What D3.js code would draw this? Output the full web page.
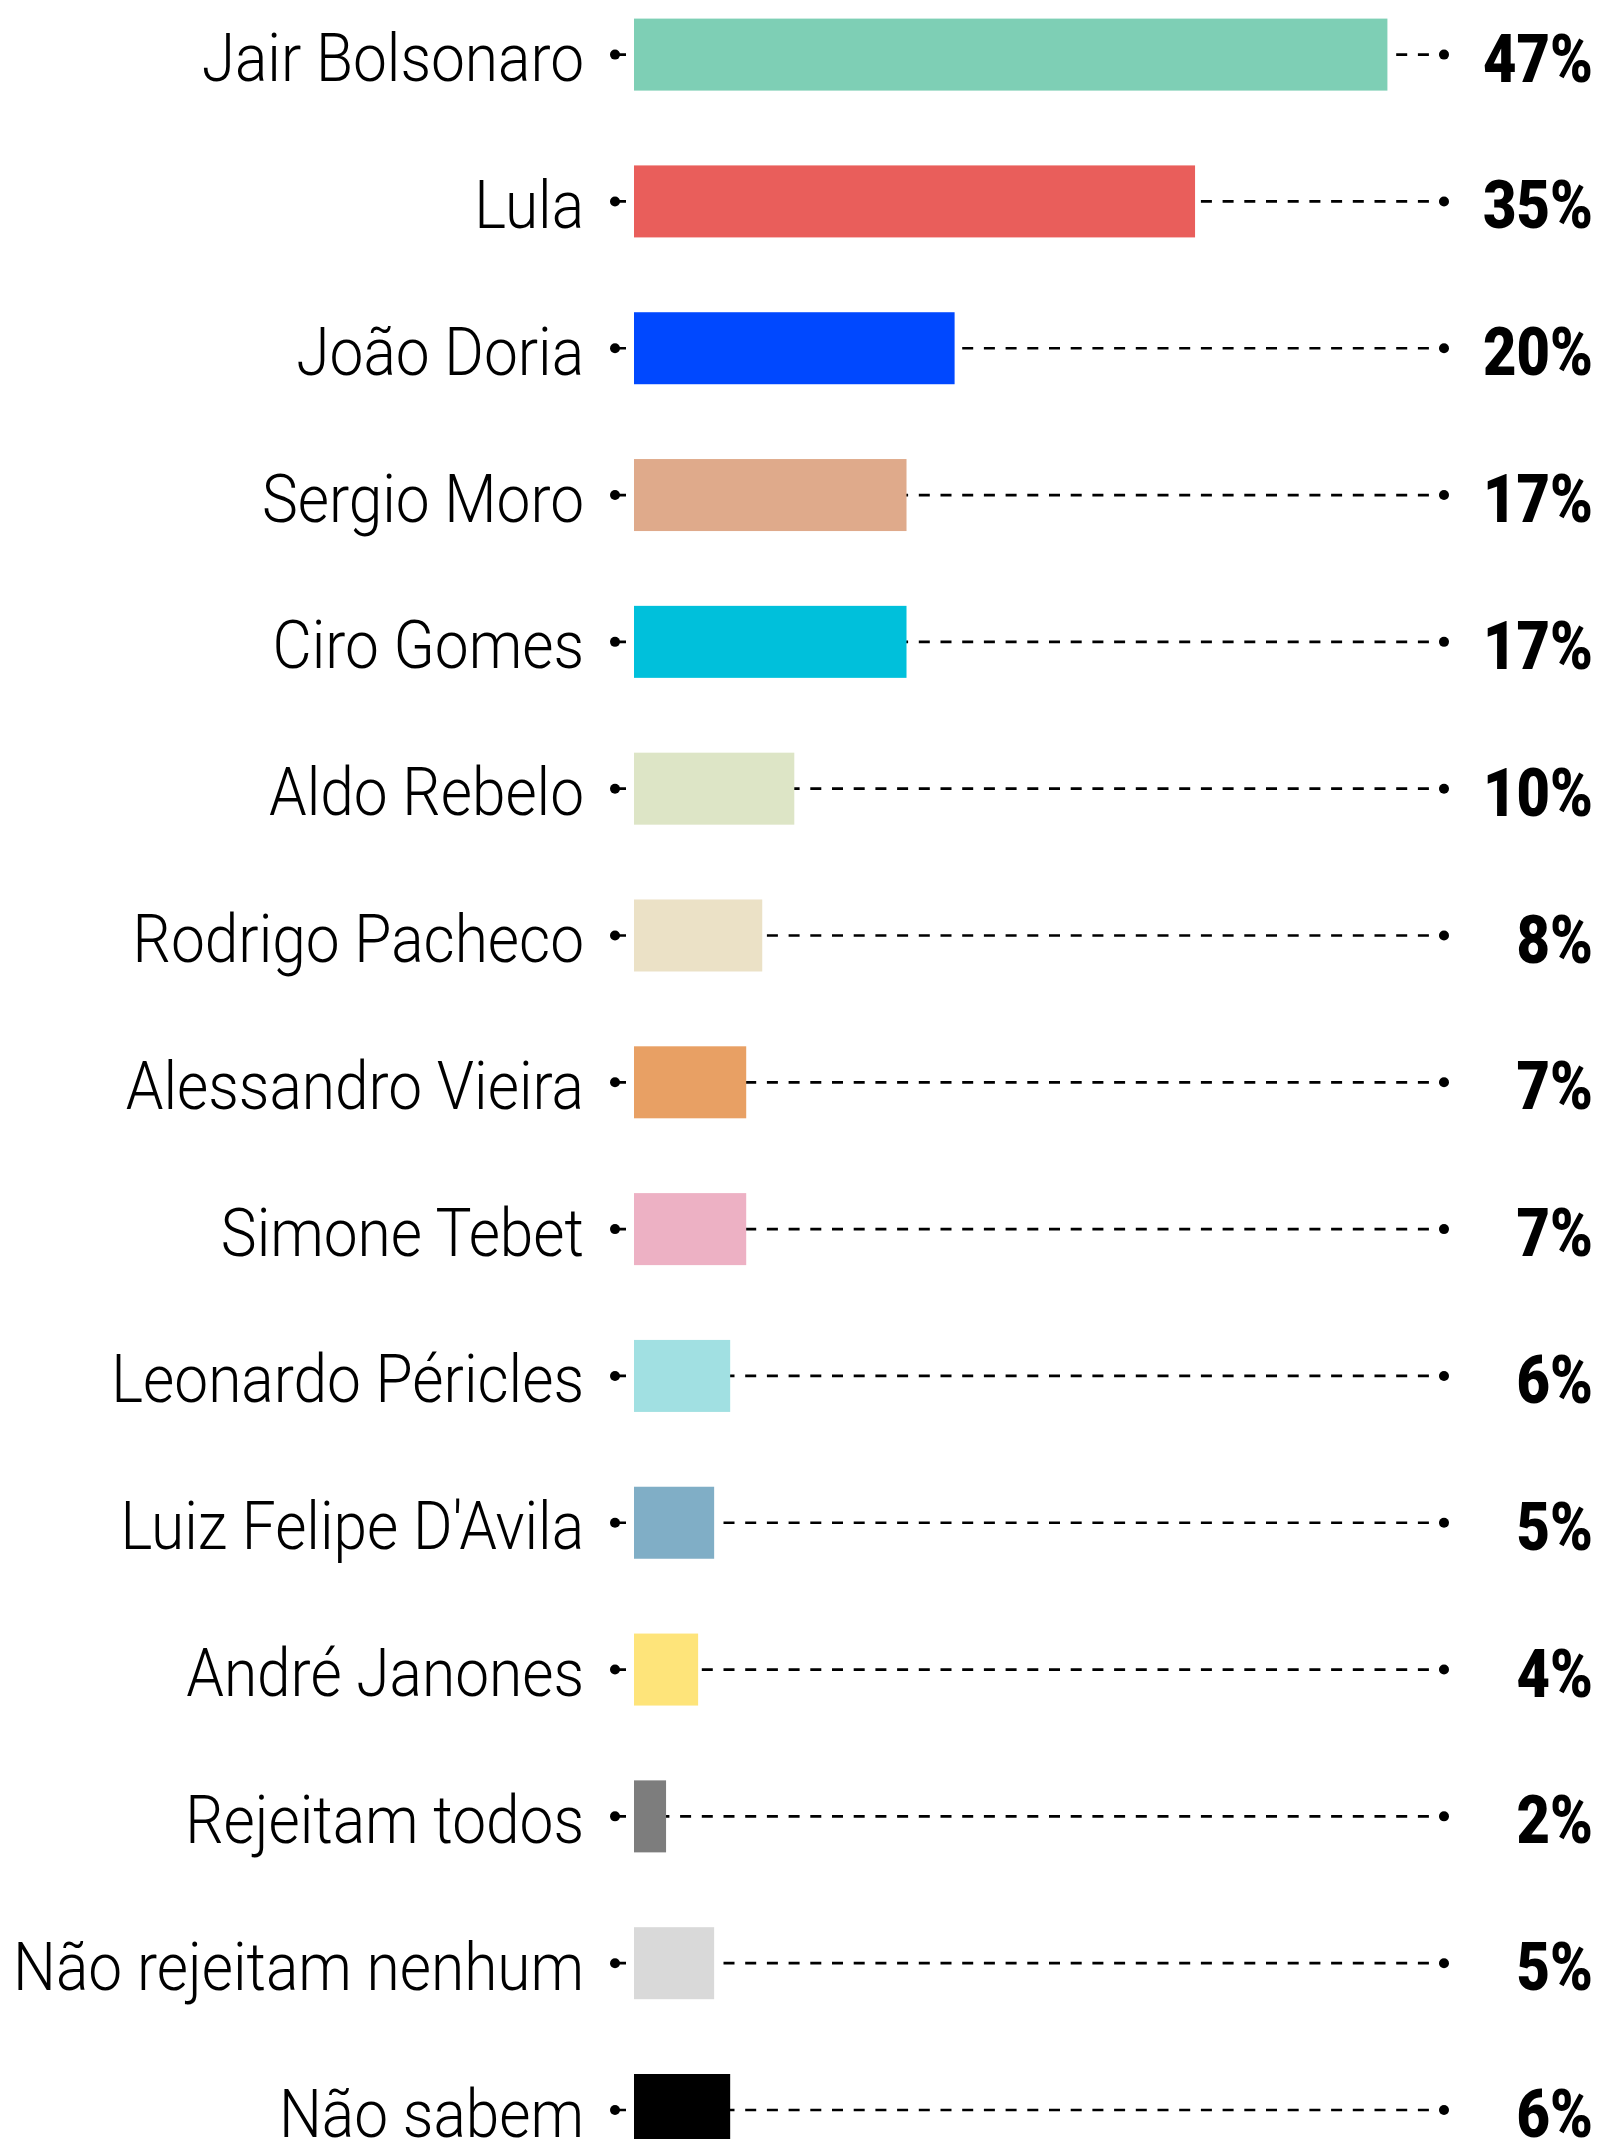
<!DOCTYPE html>
<html>
<head>
<meta charset="utf-8">
<script src="https://cdn.jsdelivr.net/npm/d3@7"></script>
<style>
  body { margin: 0; background: #fff; }
</style>
</head>
<body>
<div id="chart"></div>
<script>
  // data
  const names = ["Jair Bolsonaro", "Lula", "João Doria", "Sergio Moro", "Ciro Gomes", "Aldo Rebelo",
    "Rodrigo Pacheco", "Alessandro Vieira", "Simone Tebet", "Leonardo Péricles", "Luiz Felipe D'Avila",
    "André Janones", "Rejeitam todos", "Não rejeitam nenhum", "Não sabem"]
  const values = [47, 35, 20, 17, 17, 10, 8, 7, 7, 6, 5, 4, 2, 5, 6]
  const colors = ["#7ecfb5", "#e95e5b", "#0048ff", "#dfaa8b", "#00c0db", "#dde5c6",
    "#ebe1c6", "#e8a064", "#edb1c4", "#a1e0e2", "#80aec6", "#fee47a", "#7d7d7d", "#d9d9d9", "#000000"]

  const data = names.map((d, i) => ({ name: d, value: values[i], color: colors[i] }))

  const width = 1599, height = 2139

  const svg = d3.select("#chart")
    .append("svg")
    .attr("width", width)
    .attr("height", height)

  // scales
  const x = d3.scaleLinear()
    .domain([0, 100])
    .range([634, 634 + 1603])

  const y = d3.scalePoint()
    .domain(names)
    .range([54.6, 2110])

  const barH = 72
  const dotL = 615, dotR = 1444
  const labelRight = 584, valueRight = 1593

  const row = svg.selectAll("g.row")
    .data(data)
    .join("g")
    .attr("class", "row")
    .attr("transform", d => `translate(0,${y(d.name)})`)

  // dashed leader line (behind the bar)
  row.append("line")
    .attr("x1", dotL)
    .attr("x2", dotR)
    .attr("stroke", "#000")
    .attr("stroke-width", 2.7)
    .attr("stroke-dasharray", "11,10.7")

  row.append("circle")
    .attr("cx", dotL)
    .attr("r", 5)
    .attr("fill", "#000")

  row.append("circle")
    .attr("cx", dotR)
    .attr("r", 5)
    .attr("fill", "#000")

  row.append("rect")
    .attr("x", x(0))
    .attr("y", -barH / 2)
    .attr("width", d => x(d.value) - x(0))
    .attr("height", barH)
    .attr("fill", d => d.color)

  // labels (condensed: squeeze horizontally to the reference width)
  const labG = row.append("g")
  const labels = labG.append("text")
    .attr("y", 26.5)
    .attr("text-anchor", "end")
    .style("font-family", "Roboto, 'DejaVu Sans Condensed', sans-serif")
    .style("font-weight", 300)
    .style("font-size", "67px")
    .style("fill", "#000")
    .text(d => d.name)

  const longest = labels.filter(d => d.name === "Não rejeitam nenhum").node().getComputedTextLength()
  const sx = 571 / longest
  labG.attr("transform", `translate(${labelRight},0) scale(${sx},1)`)

  // values
  const valG = row.append("g")
  const vals = valG.append("text")
    .attr("y", 27)
    .attr("text-anchor", "end")
    .style("font-family", "Roboto, 'DejaVu Sans Condensed', sans-serif")
    .style("font-weight", 900)
    .style("font-size", "67px")
    .style("fill", "#000")
    .text(d => d.value + "%")

  const w47 = vals.filter(d => d.value === 47).node().getComputedTextLength()
  const sv = 110 / w47
  valG.attr("transform", `translate(${valueRight},0) scale(${sv},1)`)
</script>
</body>
</html>
